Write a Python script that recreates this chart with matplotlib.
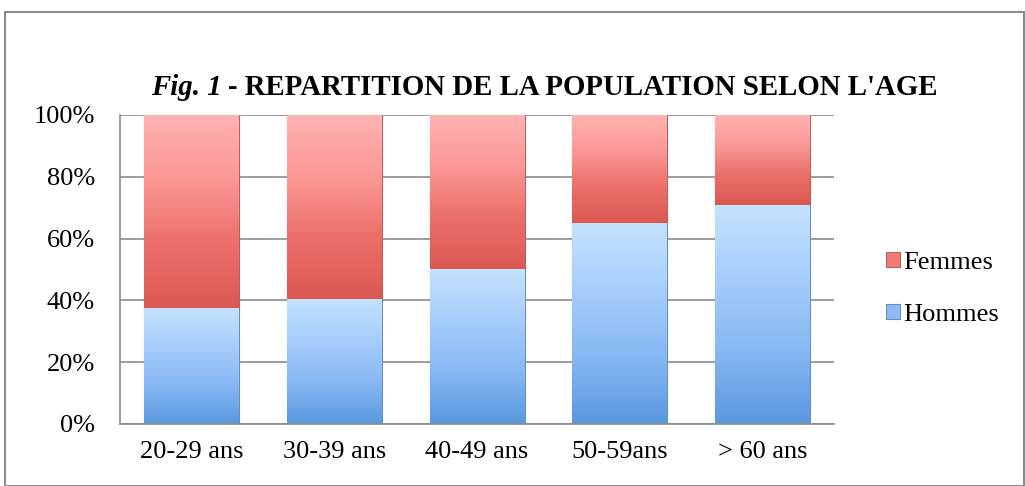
import matplotlib.pyplot as plt
import numpy as np
from matplotlib.colors import LinearSegmentedColormap
from matplotlib.patches import Rectangle

categories = ["20-29 ans", "30-39 ans", "40-49 ans", "50-59ans", "> 60 ans"]
hommes = [37.5, 40.5, 50.0, 65.0, 71.0]
femmes = [100 - h for h in hommes]

plt.rcParams['font.family'] = ['Liberation Serif', 'DejaVu Serif']

fig = plt.figure(figsize=(10.25, 4.86), dpi=100)
# cadre gris autour du graphique
fig.patches.append(Rectangle((0.005, 0.0), 0.994, 0.975, transform=fig.transFigure,
                             fill=False, edgecolor="#8c8c8c", linewidth=1.5))
ax = fig.add_axes([0.1171, 0.1276, 0.6966, 0.6358])

x = np.arange(len(categories))
w = 0.665
b1 = ax.bar(x, hommes, w, color="#8cbcf5", edgecolor="#6a8fb8", linewidth=0.8,
            label="Hommes", zorder=2)
b2 = ax.bar(x, femmes, w, bottom=hommes, color="#f07a74", edgecolor="#b86060",
            linewidth=0.8, label="Femmes", zorder=2)

# degrade vertical dans chaque barre
cm_h = LinearSegmentedColormap.from_list("h", ["#5a98e0", "#86b8f3", "#a6cdfb", "#c4e2ff"])
cm_f = LinearSegmentedColormap.from_list("f", ["#db5853", "#ec6f69", "#fb9895", "#ffb4b2"])
grad = np.linspace(0, 1, 256).reshape(-1, 1)
for bars, cm in ((b1, cm_h), (b2, cm_f)):
    for p in bars:
        x0, y0 = p.get_x(), p.get_y()
        im = ax.imshow(grad, cmap=cm, origin="lower", aspect="auto", zorder=2.5,
                       extent=[x0, x0 + p.get_width(), y0, y0 + p.get_height()])
        im.set_clip_path(p)

ax.set_xlim(-0.5, len(categories) - 0.5)
ax.set_ylim(0, 100)
ax.set_yticks(range(0, 101, 20))
ax.set_yticklabels([f"{v}%" for v in range(0, 101, 20)], fontsize=19)
ax.set_xticks(x)
ax.set_xticklabels(categories, fontsize=19)
ax.tick_params(axis="x", length=0, pad=12)
ax.tick_params(axis="y", length=0, pad=18)
ax.grid(axis="y", color="#8c8c8c", linewidth=1.2, zorder=0)
for s in ["top", "right"]:
    ax.spines[s].set_visible(False)
for s in ["left", "bottom"]:
    ax.spines[s].set_color("#8c8c8c")
    ax.spines[s].set_linewidth(1.2)

h, l = ax.get_legend_handles_labels()
ax.legend(h[::-1], l[::-1], loc="center left", bbox_to_anchor=(1.04, 0.437), frameon=False,
          fontsize=19, handlelength=0.5, handleheight=0.5, handletextpad=0.15,
          labelspacing=1.15)

t1 = fig.text(0.147, 0.82, "Fig. 1", fontsize=20.8, fontweight="bold", fontstyle="italic",
              ha="left", va="center")
fig.canvas.draw()
bb = t1.get_window_extent()
fig.text(bb.x1 / fig.bbox.width + 0.006, 0.82, "- REPARTITION DE LA POPULATION SELON L'AGE",
         fontsize=20.8, fontweight="bold", ha="left", va="center")

fig.savefig("out.png", dpi=100)
